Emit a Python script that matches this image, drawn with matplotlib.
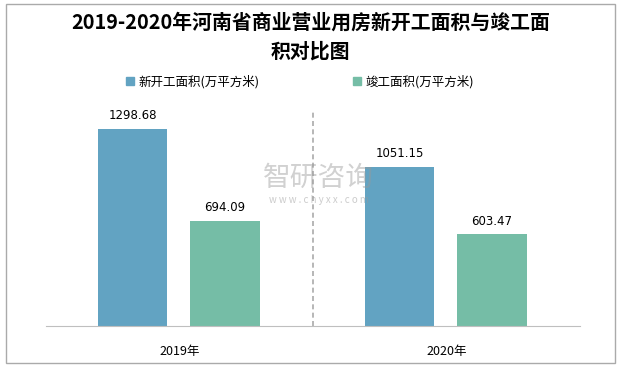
import matplotlib
matplotlib.use("Agg")
import matplotlib.pyplot as plt
from matplotlib.patches import Rectangle
import numpy as np

plt.rcParams['font.family'] = ['Noto Sans CJK SC', 'DejaVu Sans']

# data
years = ["2019年", "2020年"]
series_names = ["新开工面积(万平方米)", "竣工面积(万平方米)"]
new_area = [1298.68, 1051.15]
done_area = [694.09, 603.47]
colors = ["#62A3C2", "#75BDA6"]

fig = plt.figure(figsize=(6.19, 3.67), dpi=100)
ax = fig.add_axes([0.0743, 0.1117, 0.8627, 0.62])

x = np.arange(len(years))
w = 0.26
off = 0.17
for vals, dx, c in [(new_area, -off - 0.005, colors[0]), (done_area, off, colors[1])]:
    bars = ax.bar(x + dx, vals, width=w, color=c)
    for b, v in zip(bars, vals):
        ax.text(b.get_x() + b.get_width() / 2, v + 45, "%.2f" % v,
                ha='center', va='bottom', fontsize=8.5, family=['DejaVu Sans'])

ax.set_xlim(-0.5, 1.5)
ax.set_ylim(0, 1500)
ax.set_yticks([])
ax.set_xticks(x)
ax.set_xticklabels(years, fontsize=9)
ax.tick_params(axis='x', length=0, pad=14)
for s in ['top', 'right', 'left']:
    ax.spines[s].set_visible(False)
ax.spines['bottom'].set_color('#BFBFBF')
ax.axvline(0.5, ymin=0, ymax=0.94, color='#AAAAAA', linestyle=(0, (3, 2)), linewidth=1.2)

# legend
handles = [Rectangle((0, 0), 1, 1, color=c) for c in colors]
fig.legend(handles, series_names, loc='center', bbox_to_anchor=(0.485, 0.777),
           ncol=2, frameon=False, fontsize=9, handlelength=0.6, handleheight=0.6,
           columnspacing=7.5, handletextpad=0.4)

fig.text(0.502, 0.9, "2019-2020年河南省商业营业用房新开工面积与竣工面\n积对比图",
         ha='center', va='center', fontsize=14.3, fontweight='bold', linespacing=1.45)

# watermark
fig.text(0.515, 0.515, "智研咨询", ha='center', va='center', fontsize=20,
         color='#999999', alpha=0.45)
fig.text(0.515, 0.455, "w w w . c h y x x . c o m", ha='center', va='center',
         fontsize=7, color='#999999', alpha=0.5)

fig.patches.append(Rectangle((0.01, 0.012), 0.983, 0.978, transform=fig.transFigure,
                             fill=False, edgecolor='#AAAAAA', linewidth=1))

fig.savefig("out.png", dpi=100)
